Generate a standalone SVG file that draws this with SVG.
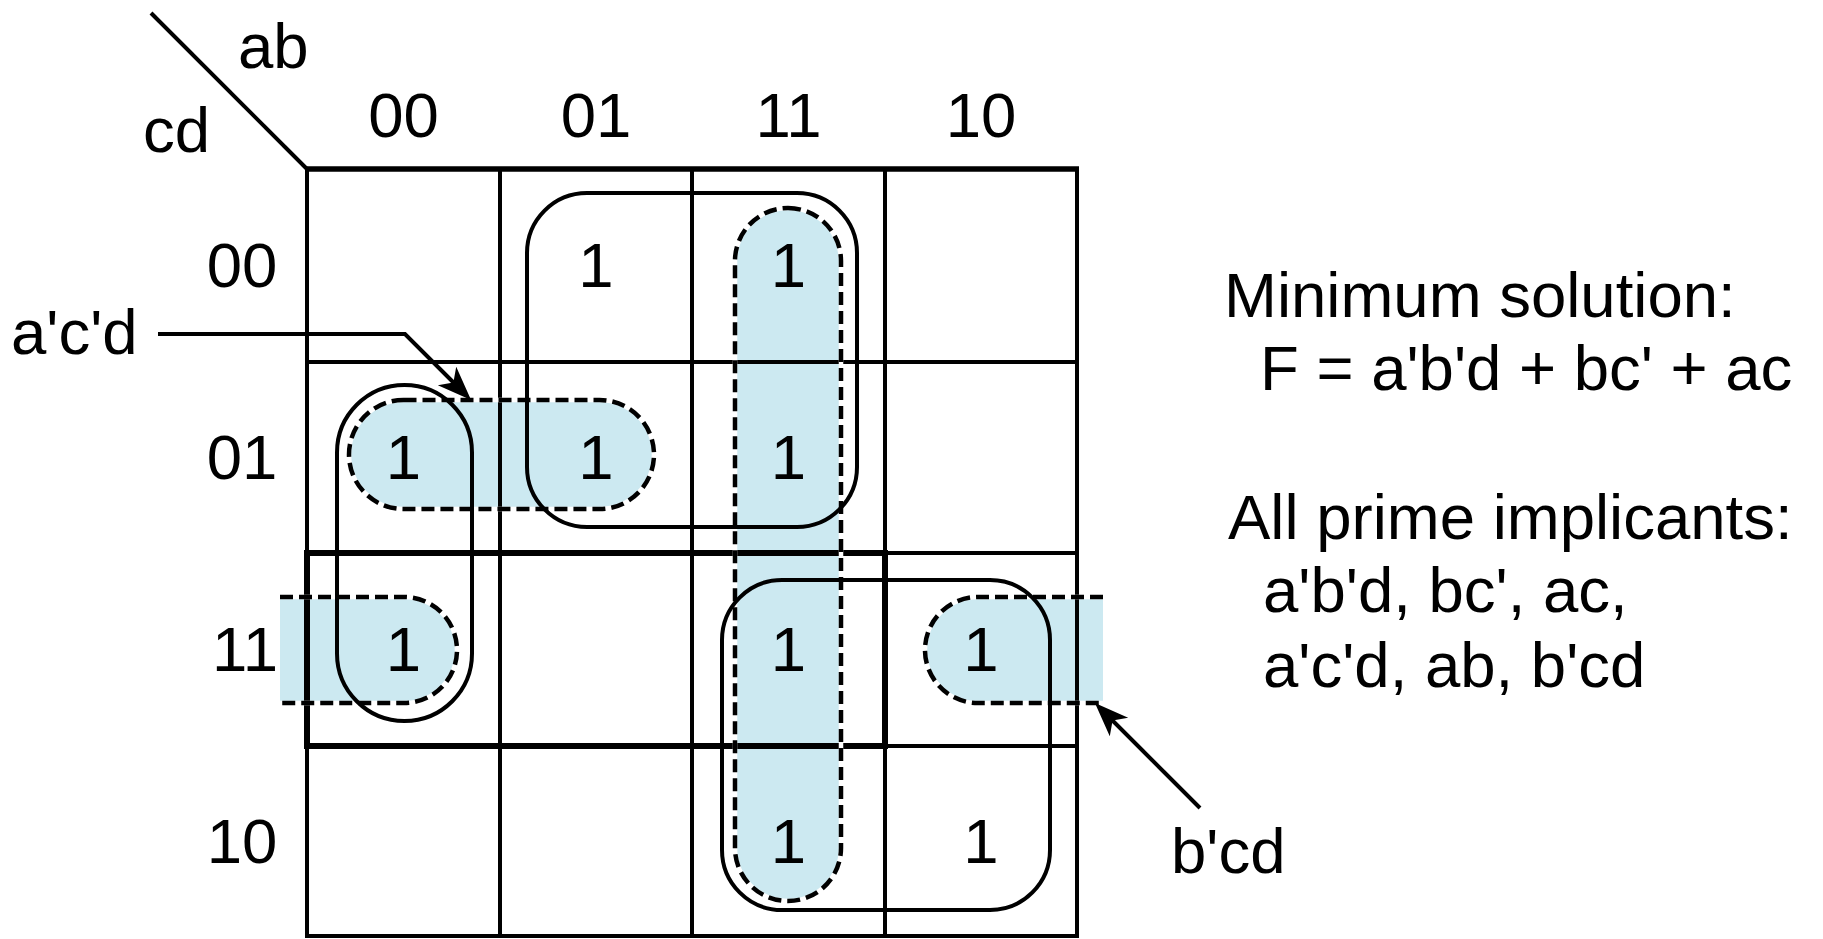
<svg xmlns="http://www.w3.org/2000/svg" xmlns:xlink="http://www.w3.org/1999/xlink" width="1823" height="939" viewBox="0 0 1823 939">
<style>
text{font-family:"Liberation Sans",Arial,sans-serif;font-size:63.5px;fill:#000}
.mid{text-anchor:middle}
.grid line{stroke:#000;stroke-width:4}
.thick{stroke:#000;stroke-width:6;fill:none}
.fill{fill:#cce9f1;stroke:none}
.dashbg{fill:none;stroke:#fff;stroke-width:4.5}
.dash{fill:none;stroke:#000;stroke-width:4.5;stroke-dasharray:13 6}
.loop{fill:none;stroke:#000;stroke-width:4}
.lead{fill:none;stroke:#000;stroke-width:4}
</style>
<defs>
<marker id="arr" markerUnits="userSpaceOnUse" markerWidth="46" markerHeight="32" viewBox="-36 -16 38 32" refX="-10" refY="0" orient="auto">
<path d="M0,0 L-34,-13 L-25,0 L-34,13 Z" fill="#000"/>
</marker>
<rect id="acd" x="349" y="400" width="305" height="109" rx="54.5"/>
<rect id="abb" x="735" y="208" width="106" height="693" rx="53"/>
<path id="bcdL" d="M280,597 H404 A53,53 0 0 1 404,703 H280"/>
<path id="bcdR" d="M1103,597 H978 A53,53 0 0 0 978,703 H1103"/>
</defs>

<g id="shading">
<use xlink:href="#acd" class="fill"/>
<use xlink:href="#abb" class="fill"/>
<path class="fill" d="M280,597 H404 A53,53 0 0 1 404,703 H280 Z"/>
<path class="fill" d="M1103,597 H978 A53,53 0 0 0 978,703 H1103 Z"/>
</g>

<g id="grid" class="grid">
<line x1="151" y1="13" x2="307" y2="169"/>
<line x1="307" y1="169" x2="307" y2="936"/>
<line x1="500" y1="169" x2="500" y2="936"/>
<line x1="692" y1="169" x2="692" y2="936"/>
<line x1="885" y1="169" x2="885" y2="936"/>
<line x1="1077" y1="169" x2="1077" y2="936"/>
<line x1="305" y1="169" x2="1079" y2="169" style="stroke-width:5.5"/>
<line x1="307" y1="362" x2="1077" y2="362"/>
<line x1="307" y1="553" x2="1077" y2="553"/>
<line x1="307" y1="746" x2="1077" y2="746"/>
<line x1="305" y1="936" x2="1079" y2="936"/>
<rect class="thick" x="307" y="553" width="578" height="193"/>
<line class="thick" x1="500" y1="553" x2="500" y2="746"/>
<line class="thick" x1="692" y1="553" x2="692" y2="746"/>
</g>

<g id="implicant-acd">
<use xlink:href="#acd" class="dashbg"/>
<use xlink:href="#acd" class="dash"/>
</g>
<g id="implicant-ab">
<use xlink:href="#abb" class="dashbg"/>
<use xlink:href="#abb" class="dash"/>
</g>
<g id="implicant-bcd">
<use xlink:href="#bcdL" class="dashbg"/>
<use xlink:href="#bcdL" class="dash"/>
<use xlink:href="#bcdR" class="dashbg"/>
<use xlink:href="#bcdR" class="dash"/>
</g>
<g id="implicant-abd">
<rect class="loop" x="337" y="385" width="135" height="336" rx="67.5"/>
</g>
<g id="implicant-bc">
<rect class="loop" x="527" y="193" width="330" height="334" rx="60"/>
</g>
<g id="implicant-ac">
<rect class="loop" x="722" y="580" width="328" height="330" rx="60"/>
</g>

<g id="axis-labels">
<text x="238" y="68">ab</text>
<text x="143" y="152">cd</text>
<text class="mid" x="403.5" y="137">00</text>
<text class="mid" x="596" y="137">01</text>
<text class="mid" x="788.5" y="137">11</text>
<text class="mid" x="981" y="137">10</text>
<text class="mid" x="242" y="287">00</text>
<text class="mid" x="242" y="479">01</text>
<text class="mid" x="245" y="671">11</text>
<text class="mid" x="242" y="863">10</text>
</g>

<g id="cells">
<text class="mid" x="596" y="287">1</text>
<text class="mid" x="788.5" y="287">1</text>
<text class="mid" x="403.5" y="479">1</text>
<text class="mid" x="596" y="479">1</text>
<text class="mid" x="788.5" y="479">1</text>
<text class="mid" x="403.5" y="671">1</text>
<text class="mid" x="788.5" y="671">1</text>
<text class="mid" x="981" y="671">1</text>
<text class="mid" x="788.5" y="863">1</text>
<text class="mid" x="981" y="863">1</text>
</g>

<g id="label-acd"><text x="11" y="354">a'c'd</text></g>
<g id="label-bcd"><text x="1171" y="873">b'cd</text></g>

<g id="connectors">
<path class="lead" d="M158,334 H405 L464,393" marker-end="url(#arr)"/>
<path class="lead" d="M1200,808 L1102,710" marker-end="url(#arr)"/>
</g>

<g id="solution-text">
<text x="1224" y="317">Minimum solution:</text>
<text x="1260" y="390">F = a'b'd + bc' + ac</text>
<text x="1228" y="539">All prime implicants:</text>
<text x="1263" y="612">a'b'd, bc', ac,</text>
<text x="1263" y="687">a'c'd, ab, b'cd</text>
</g>
</svg>
